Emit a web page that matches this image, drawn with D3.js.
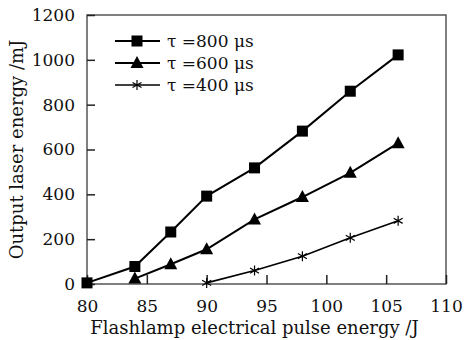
<!DOCTYPE html>
<html>
<head>
<meta charset="utf-8">
<script src="https://cdn.jsdelivr.net/npm/d3@7"></script>
<style>
  body { margin: 0; background: #fff; }
  text { font-family: "DejaVu Serif", "Liberation Serif", serif; fill: #111; }
</style>
</head>
<body>
<div id="chart"></div>
<script>
// data
var xTicks = [80, 85, 90, 95, 100, 105, 110];
var yTicks = [0, 200, 400, 600, 800, 1000, 1200];

var x800 = [80, 84, 87, 90, 94, 98, 102, 106];
var y800 = [5, 78, 232, 392, 518, 682, 860, 1022];
var x600 = [84, 87, 90, 94, 98, 102, 106];
var y600 = [24, 88, 155, 288, 388, 496, 628];
var x400 = [90, 94, 98, 102, 106];
var y400 = [5, 60, 124, 206, 282];

var labels = ["\u03c4 =800 \u03bcs", "\u03c4 =600 \u03bcs", "\u03c4 =400 \u03bcs"];

var W = 467, H = 340;
var margin = {top: 15, right: 21, bottom: 56, left: 87};
var width = W - margin.left - margin.right;
var height = H - margin.top - margin.bottom;

var svg = d3.select("#chart").append("svg")
    .attr("width", W)
    .attr("height", H);

var g = svg.append("g")
    .attr("transform", "translate(" + margin.left + "," + margin.top + ")");

var x = d3.scaleLinear().domain([80, 110]).range([0, width]);
var y = d3.scaleLinear().domain([0, 1200]).range([height, 0]);

// frame
g.append("rect")
    .attr("width", width)
    .attr("height", height)
    .attr("fill", "none")
    .attr("stroke", "#555")
    .attr("stroke-width", 1.5);

// x axis, ticks pointing inward
var xAxis = g.append("g")
    .attr("transform", "translate(0," + height + ")")
    .call(d3.axisBottom(x).tickValues(xTicks).tickFormat(d3.format("d"))
      .tickSizeInner(-9).tickSizeOuter(0).tickPadding(16));
xAxis.select(".domain").remove();
xAxis.selectAll("line").attr("stroke", "#222").attr("stroke-width", 1.5);
xAxis.selectAll("text").attr("font-size", 17).attr("fill", "#111")
    .attr("font-family", "DejaVu Serif, serif");

var yAxis = g.append("g")
    .call(d3.axisLeft(y).tickValues(yTicks).tickFormat(d3.format("d"))
      .tickSizeInner(-8).tickSizeOuter(0).tickPadding(12));
yAxis.select(".domain").remove();
yAxis.selectAll("line").attr("stroke", "#222").attr("stroke-width", 1.5);
yAxis.selectAll("text").attr("font-size", 17).attr("fill", "#111")
    .attr("font-family", "DejaVu Serif, serif");

// axis titles
svg.append("text")
    .attr("x", margin.left + width / 2 - 12)
    .attr("y", 334)
    .attr("text-anchor", "middle")
    .attr("font-size", 18)
    .text("Flashlamp electrical pulse energy /J");

svg.append("text")
    .attr("transform", "translate(23," + (margin.top + height / 2) + ") rotate(-90)")
    .attr("text-anchor", "middle")
    .attr("font-size", 18)
    .text("Output laser energy /mJ");

var line = d3.line().x(d => x(d[0])).y(d => y(d[1]));

var series = [
  {pts: d3.zip(x800, y800), shape: "square", sw: 2},
  {pts: d3.zip(x600, y600), shape: "triangle", sw: 2},
  {pts: d3.zip(x400, y400), shape: "star", sw: 1.6}
];

function marker(sel, shape) {
  if (shape == "square") {
    sel.append("rect").attr("x", -5.5).attr("y", -5.5).attr("width", 11).attr("height", 11).attr("fill", "#000");
  } else if (shape == "triangle") {
    sel.append("path").attr("d", "M0,-7L6.5,5L-6.5,5Z").attr("fill", "#000");
  } else {
    sel.append("path")
        .attr("d", "M0,-5V5M-4.5,-2.6L4.5,2.6M-4.5,2.6L4.5,-2.6")
        .attr("stroke", "#000").attr("stroke-width", 1.2).attr("fill", "none");
  }
}

series.forEach(function(s) {
  g.append("path")
      .datum(s.pts)
      .attr("d", line)
      .attr("fill", "none")
      .attr("stroke", "#000")
      .attr("stroke-width", s.sw);

  g.selectAll(null)
      .data(s.pts)
      .join("g")
      .attr("transform", d => "translate(" + x(d[0]) + "," + y(d[1]) + ")")
      .each(function() { marker(d3.select(this), s.shape); });
});

// legend
var legend = svg.append("g").attr("transform", "translate(115,41)");
series.forEach(function(s, i) {
  var row = legend.append("g").attr("transform", "translate(0," + (i * 22) + ")");
  row.append("line").attr("x1", 0).attr("x2", 45).attr("stroke", "#000").attr("stroke-width", s.sw);
  var m = row.append("g").attr("transform", "translate(22,0)");
  marker(m, s.shape);
  row.append("text")
      .attr("x", 52)
      .attr("y", 6)
      .attr("font-size", 17)
      .text(labels[i]);
});
</script>
</body>
</html>
